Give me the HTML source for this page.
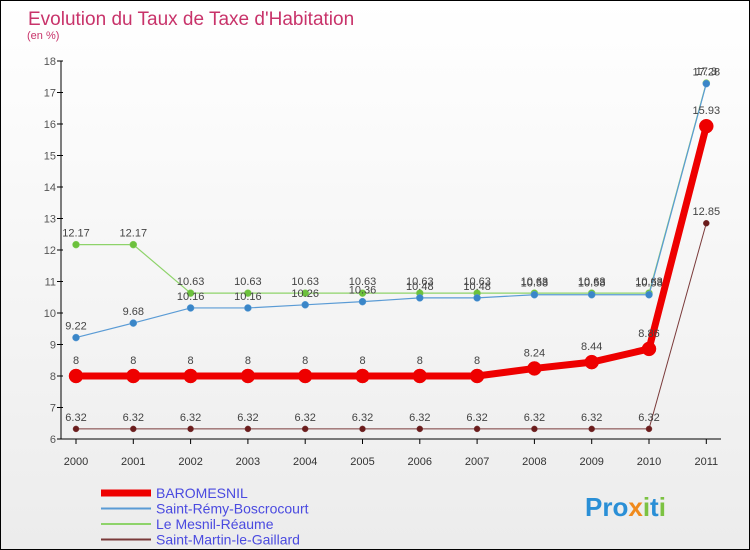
<!DOCTYPE html>
<html><head><meta charset="utf-8"><style>
body{margin:0}
#wrap{width:750px;height:550px;position:relative;overflow:hidden;background:linear-gradient(#ffffff,#ececec);box-sizing:border-box;border:1px solid #000;font-family:"Liberation Sans",sans-serif}
</style></head><body>
<div id="wrap">
<svg id="chart" width="750" height="550" style="position:absolute;left:0;top:0">
<text x="27" y="24" font-size="19" fill="#c8336a">Evolution du Taux de Taxe d'Habitation</text>
<text x="26" y="38" font-size="11" fill="#c8336a">(en %)</text>
<g id="axes"></g><g id="series"></g><g id="legend"></g>
<text x="584" y="515" font-size="26" font-weight="bold" fill="#2a8fd6">Pro<tspan fill="#f08a1c">x</tspan><tspan fill="#7cc242">i</tspan>t<tspan fill="#7cc242">i</tspan></text>
</svg>
</div>
<script>
const years=["2000","2001","2002","2003","2004","2005","2006","2007","2008","2009","2010","2011"];
const yTicks=[6,7,8,9,10,11,12,13,14,15,16,17,18];
const baromesnil=[8,8,8,8,8,8,8,8,8.24,8.44,8.86,15.93];
const saintRemy=[9.22,9.68,10.16,10.16,10.26,10.36,10.48,10.48,10.58,10.58,10.58,17.28];
const mesnilReaume=[12.17,12.17,10.63,10.63,10.63,10.63,10.63,10.63,10.63,10.63,10.63,17.3];
const saintMartin=[6.32,6.32,6.32,6.32,6.32,6.32,6.32,6.32,6.32,6.32,6.32,12.85];
const seriesNames=["BAROMESNIL","Saint-Rémy-Boscrocourt","Le Mesnil-Réaume","Saint-Martin-le-Gaillard"];
const NS="http://www.w3.org/2000/svg";
const X=i=>75+i*57.3;
const Y=v=>438-(v-6)*31.5;
function mk(tag,attrs,parent){const e=document.createElementNS(NS,tag);for(const k in attrs)e.setAttribute(k,attrs[k]);parent.appendChild(e);return e;}
const axes=document.getElementById('axes');
let a=mk('line',{x1:60,y1:60,x2:60,y2:438,stroke:'#000'},axes);


a=mk('line',{x1:60,y1:438,x2:720,y2:438,stroke:'#000'},axes);


yTicks.forEach(t=>{
 const l=mk('line',{x1:56,y1:Y(t),x2:62,y2:Y(t),stroke:'#000'},axes);
 
 
 const tx=mk('text',{x:55,y:Y(t)+4,'font-size':11,fill:'#555','text-anchor':'end'},axes);
 tx.textContent=t;
 
 
});
years.forEach((y,i)=>{
 const l=mk('line',{x1:X(i),y1:438,x2:X(i),y2:443,stroke:'#000'},axes);
 
 
 const tx=mk('text',{x:X(i),y:464,'font-size':11,fill:'#333','text-anchor':'middle'},axes);
 tx.textContent=y;
 
 
});
const sg=document.getElementById('series');
function draw(vals,color,dot,w,r,name){
 const g=mk('g',{},sg);
 
 
 const p=mk('polyline',{points:vals.map((v,i)=>X(i)+','+Y(v)).join(' '),fill:'none',stroke:color,'stroke-width':w},g);
 
 
 vals.forEach((v,i)=>{
  const c=mk('circle',{cx:X(i),cy:Y(v),r:r,fill:dot,stroke:color,'stroke-width':0.5},g);
  
  
  const t=mk('text',{x:X(i),y:Y(v)-8-(r>4?4:0),'font-size':11,fill:'#444','text-anchor':'middle'},g);
  t.textContent=v;
  
  
 });
}
draw(saintMartin,'#7a3a3a','#6b1c1c',1,3,'saint-martin-series');
draw(mesnilReaume,'#8ed36a','#6cc13c',1.2,3.5,'mesnil-reaume-series');
draw(saintRemy,'#5a9bd5','#3a86c8',1.2,3.5,'saint-remy-series');
draw(baromesnil,'#ee0000','#ee0000',7,7,'baromesnil-series');
const lg=document.getElementById('legend');
const lc=['#ee0000','#5a9bd5','#8ed36a','#7a3a3a'],lw=[7,2,2,2];
seriesNames.forEach((n,i)=>{
 const y=492+i*15.5;
 const l=mk('line',{x1:100,y1:y,x2:150,y2:y,stroke:lc[i],'stroke-width':lw[i]},lg);
 
 
 const t=mk('text',{x:155,y:y+5,'font-size':14,fill:'#4a4ae0'},lg);
 t.textContent=n;
 
 
});
</script>
</body></html>
